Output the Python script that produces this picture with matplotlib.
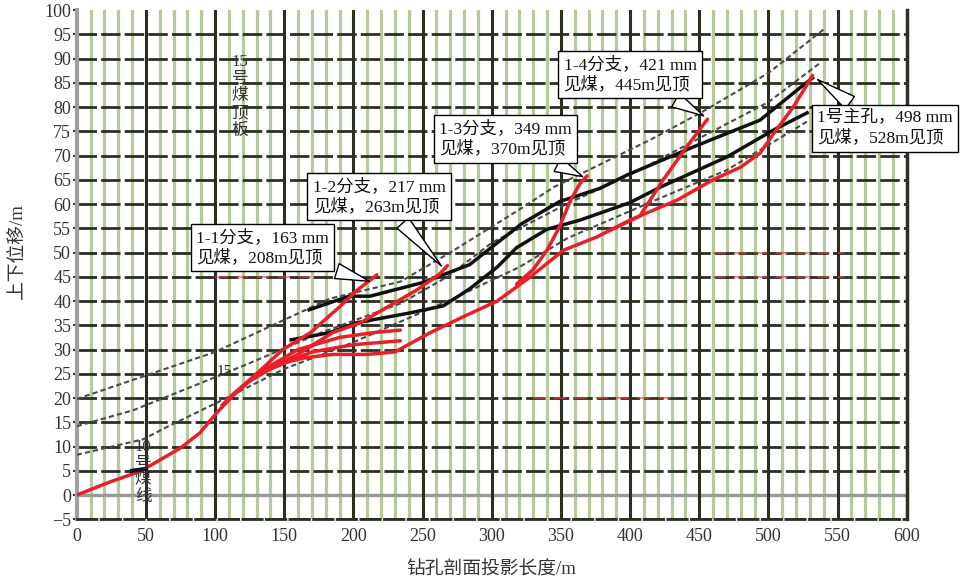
import matplotlib
matplotlib.use("Agg")
import matplotlib.pyplot as plt

plt.rcParams['font.family'] = ['Liberation Serif', 'Noto Sans CJK SC', 'DejaVu Sans']

# 主孔 (red)
main_x = [0, 24, 46, 60, 75, 89, 101, 113, 125, 140, 150, 165, 185, 210, 230, 255, 279, 304, 328, 352, 376, 400, 434, 460, 480, 494, 504, 518, 532]
main_y = [0, 2.7, 4.9, 7.2, 9.7, 12.8, 16.9, 20.5, 23.5, 26, 27.3, 28.3, 29, 29, 29.5, 33.4, 36.7, 40, 45, 50.5, 53.2, 56.7, 60.8, 65, 67.6, 70.5, 74.6, 80, 86.5]

# branches (red)
b11_x = [105, 113, 130, 149, 169, 190, 203, 217]
b11_y = [18.5, 20.8, 25, 30, 33.5, 38.8, 42.3, 45.4]
b12_x = [125, 140, 160, 185, 205, 220, 246, 262, 268]
b12_y = [23.5, 26.2, 29, 33.5, 35.5, 38, 42.3, 45.5, 47.3]
b13_x = [318, 330, 340, 349, 357, 364, 369]
b13_y = [43.5, 46.5, 50.5, 55.3, 60.8, 64.3, 65.8]
b14_x = [385, 407, 424, 441, 456]
b14_y = [54.5, 57.5, 65, 71.8, 77.5]
# short red traces ending near 235 m
ra_x = [130, 160, 190, 215, 234]
ra_y = [25, 30, 32.5, 33.5, 34]
rb_x = [140, 170, 200, 234]
rb_y = [26, 29.5, 31, 31.8]

# coal seam roof / floor (black)
upper_x = [168, 197, 212, 250, 284, 304, 322, 349, 378, 398, 446, 494, 523, 532]
upper_y = [38.2, 41, 41, 43.8, 47.5, 52, 56, 60.5, 63.2, 66, 71.8, 77.3, 84, 86]
lower_x = [155, 183, 202, 240, 265, 284, 304, 318, 340, 364, 400, 422, 470, 504, 528]
lower_y = [32, 33.5, 35.5, 37.5, 39, 42.5, 47, 51, 54.8, 56.7, 60.3, 63.5, 69.7, 75.3, 78.8]

# design lines (gray dashed)
g1_x = [0, 100, 183, 234, 270, 318, 345, 415, 451, 500, 540]
g1_y = [19.8, 29.5, 40.5, 44, 50, 58.5, 63.5, 73.3, 78.8, 87, 96]
g2_x = [0, 41, 101, 125, 176, 234, 268, 300, 354, 400, 453, 500, 537]
g2_y = [14.2, 17.5, 24.4, 27.2, 33.4, 39.5, 45, 52, 60, 66, 74, 81, 89]
g3_x = [0, 48, 65, 101, 150, 200, 272, 320, 355, 420, 470, 528]
g3_y = [8.3, 11.5, 14, 19, 26, 31.5, 40.5, 47, 53, 61, 67, 77]

x_ticks = list(range(0, 601, 50))
y_ticks = list(range(-5, 101, 5))

notes = ["1-1分支，163 mm\n见煤，208m见顶",
         "1-2分支，217 mm\n见煤，263m见顶",
         "1-3分支，349 mm\n见煤，370m见顶",
         "1-4分支，421 mm\n见煤，445m见顶",
         "1号主孔，498 mm\n见煤，528m见顶"]
note_tip = [(213.5, 43.9), (265, 46.8), (367.6, 65.4), (455, 77.9), (534, 86)]
note_box = [(134, 51), (218.6, 61.5), (309.7, 73.4), (400, 86.7), (584.5, 75.6)]

fig = plt.figure(figsize=(9.63, 5.79), dpi=100)
ax = fig.add_axes([0.0797, 0.1031, 0.8618, 0.8796])
ax.set_xlim(0, 600)
ax.set_ylim(-5, 100)

# grid
for x in range(10, 600, 10):
    if x % 50:
        ax.axvline(x, color='#b6cb9c', lw=2.3, zorder=1)
for x in range(50, 600, 50):
    ax.axvline(x, color='#2b2f22', lw=2.2, zorder=1.2)
for y in y_ticks[:-1]:
    if y == 0:
        ax.axhline(y, color='#9a9a9a', lw=2.4, zorder=1.1)
    else:
        ax.axhline(y, color='#2b2f22', lw=2.0, dashes=(7, 1.5), zorder=1.1)

# faint red dashed marks
ax.plot([100, 170], [45, 45], color='#e04040', lw=1.5, dashes=(6, 4), alpha=0.6, zorder=2)
ax.plot([330, 432], [20, 20], color='#e04040', lw=1.5, dashes=(6, 4), alpha=0.6, zorder=2)
ax.plot([460, 555], [45, 45], color='#e04040', lw=1.5, dashes=(6, 4), alpha=0.6, zorder=2)
ax.plot([460, 555], [50, 50], color='#e04040', lw=1.5, dashes=(6, 4), alpha=0.6, zorder=2)

for gx, gy in [(g1_x, g1_y), (g2_x, g2_y), (g3_x, g3_y)]:
    ax.plot(gx, gy, color='#4a4a4a', lw=1.5, dashes=(2.5, 1.5), zorder=3)

ax.plot(upper_x, upper_y, color='#111111', lw=2.5, zorder=4)
ax.plot(lower_x, lower_y, color='#111111', lw=2.5, zorder=4)

for rx, ry in [(main_x, main_y), (b11_x, b11_y), (b12_x, b12_y), (b13_x, b13_y),
               (b14_x, b14_y), (ra_x, ra_y), (rb_x, rb_y)]:
    ax.plot(rx, ry, color='#e8202a', lw=2.5, zorder=5, solid_capstyle='round')

ax.plot([40, 50], [5, 5.4], color='#111111', lw=3, zorder=6)

# text in plot
ax.text(118, 91, "15\n号\n煤\n顶\n板", fontsize=12, color='#333333', ha='center', va='top',
        linespacing=1.1, zorder=7)
ax.text(48, 11.5, "10\n号\n煤\n线", fontsize=12, color='#333333', ha='center', va='top',
        linespacing=1.05, zorder=7)
ax.text(107, 25.4, "15", fontsize=11, color='#222222', ha='center', va='center', zorder=7)

for t, tip, box in zip(notes, note_tip, note_box):
    ax.annotate(t, xy=tip, xytext=box, textcoords='data', ha='center', va='center',
                multialignment='left', fontsize=12.5, linespacing=1.25, color='#111111',
                zorder=8, annotation_clip=False,
                bbox=dict(boxstyle='square,pad=0.3', fc='white', ec='black', lw=1),
                arrowprops=dict(arrowstyle='wedge,tail_width=0.9,shrink_factor=0.5',
                                fc='white', ec='black', lw=1))

ax.set_xticks(x_ticks)
ax.set_yticks(y_ticks)
ax.set_yticklabels([str(v).replace('-', '\u2212') for v in y_ticks])
ax.tick_params(axis='x', length=0, labelsize=13, labelcolor='#333333', pad=6)
ax.tick_params(axis='y', length=3, width=1.5, color='#333333', labelsize=13,
               labelcolor='#333333', pad=1)
ax.spines['left'].set_color('#a0a0a0')
ax.spines['left'].set_linewidth(3)
ax.spines['right'].set_color('#2b2f22')
ax.spines['right'].set_linewidth(2.5)
ax.spines['top'].set_visible(False)
ax.spines['bottom'].set_color('#2b2f22')
ax.spines['bottom'].set_linewidth(2)
ax.spines['bottom'].set_linestyle((0, (7, 1.5)))

ax.set_xlabel("钻孔剖面投影长度/m", fontsize=13.5, color='#333333', labelpad=12)
ax.set_ylabel("上下位移/m", fontsize=13.5, color='#333333')
ax.yaxis.set_label_coords(-0.061, 0.525)

fig.savefig("out.png", dpi=100)
